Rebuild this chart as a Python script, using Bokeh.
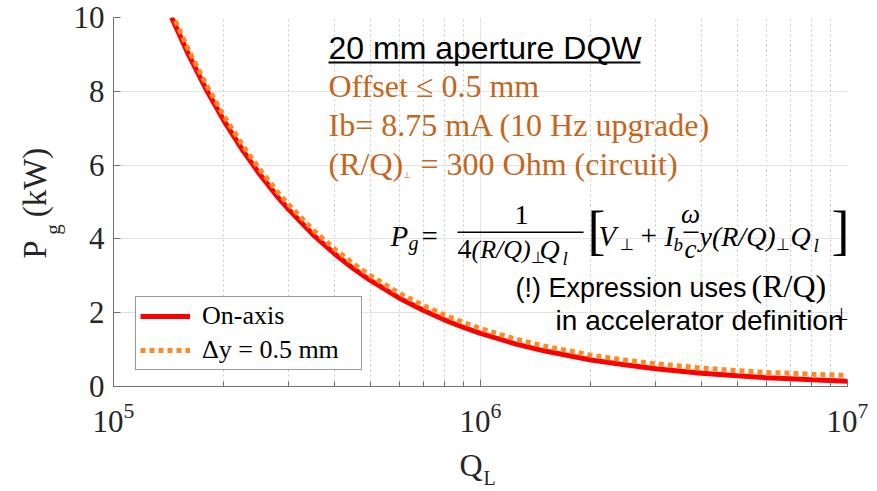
import math
from bokeh.plotting import figure
from bokeh.layouts import column, row
from bokeh.models import Range1d, FixedTicker, LogTicker, Label, BoxAnnotation
from bokeh.core.properties import value
from bokeh.embed import file_html
from bokeh.resources import INLINE

# ---- data ----
q_loaded = [1.44e5, 1.6e5, 1.8e5, 2.0e5, 2.25e5, 2.5e5, 2.8e5, 3.0e5, 3.5e5, 4.0e5,
            4.5e5, 5.0e5, 6.0e5, 7.0e5, 8.0e5, 9.0e5, 1.0e6, 1.25e6, 1.5e6, 2.0e6,
            2.5e6, 3.0e6, 4.0e6, 5.0e6, 6.0e6, 7.0e6, 8.0e6, 1.0e7]
p_on_axis = [10.0, 9.0, 8.0, 7.2, 6.4, 5.76, 5.14, 4.8, 4.11, 3.6,
             3.2, 2.88, 2.4, 2.06, 1.8, 1.6, 1.44, 1.15, 0.96, 0.72,
             0.58, 0.48, 0.36, 0.29, 0.24, 0.21, 0.18, 0.144]
p_offset = [10.13, 9.13, 8.13, 7.33, 6.53, 5.89, 5.27, 4.93, 4.24, 3.73,
            3.33, 3.01, 2.53, 2.19, 1.93, 1.73, 1.57, 1.28, 1.09, 0.85,
            0.71, 0.615, 0.50, 0.43, 0.38, 0.36, 0.33, 0.30]
y_ticks = [0, 2, 4, 6, 8, 10]
series_labels = ["On-axis", "\u0394y = 0.5 mm"]

SERIF = "Liberation Serif"
SANS = "Liberation Sans"
ORANGE_TXT = "#C5661C"
AX_TXT = "#262626"
SHIFT = 0.37   # baseline correction (fraction of font size)

# page geometry (pixels of the 877x491 picture)
WY = 70               # strip for the y-axis title
WTOT = 875
FL, FT, FW, FH = 113, 17, 734, 369
FB = FT + FH
HM = 444              # height of main figure
HX = 46               # strip for the x-axis title

# ---------------- main figure ----------------
WM = WTOT - WY
p = figure(width=WM, height=HM, x_axis_type="log",
           x_range=Range1d(1e5, 1e7), y_range=Range1d(0, 10),
           output_backend="svg", toolbar_location=None,
           min_border_left=FL - WY, min_border_right=WM - (FL - WY) - FW,
           min_border_top=FT, min_border_bottom=HM - FT - FH)
p.outline_line_color = None
p.background_fill_color = "white"

p.xaxis.ticker = LogTicker(num_minor_ticks=10)
p.yaxis.ticker = FixedTicker(ticks=y_ticks)
for ax in (p.xaxis[0], p.yaxis[0]):
    ax.axis_line_color = "#707070"
    ax.major_tick_line_color = "#707070"
    ax.minor_tick_line_color = "#707070"
    ax.major_tick_out = 0
    ax.major_tick_in = 7
    ax.minor_tick_out = 0
    ax.minor_tick_in = 5
    ax.major_label_text_font = SERIF
    ax.major_label_text_font_size = "31px"
    ax.major_label_text_color = AX_TXT
p.yaxis.minor_tick_line_color = None
p.yaxis.major_label_standoff = 9
p.xaxis.major_label_standoff = 16

p.ygrid.grid_line_color = "#E3E3E3"
p.ygrid.grid_line_width = 1
p.xgrid.grid_line_color = "#E3E3E3"
p.xgrid.minor_grid_line_color = "#C8C8C8"
p.xgrid.minor_grid_line_dash = "2 3"

p.line(q_loaded, p_on_axis, line_color="#FF0000", line_width=5, legend_label=series_labels[0])
p.line(q_loaded, p_offset, line_color="#FF8A24", line_width=5, line_dash="5 4",
       legend_label=series_labels[1])

lg = p.legend[0]
lg.location = (135 - FL, FB - 370)
lg.padding = 4
lg.margin = 0
lg.spacing = 4
lg.label_height = 30
lg.glyph_height = 30
lg.glyph_width = 50
lg.label_width = 155
lg.label_standoff = 12
lg.label_text_font = SERIF
lg.label_text_font_size = "26px"
lg.label_text_color = "black"
lg.border_line_color = "#333333"
lg.border_line_width = 1
lg.background_fill_alpha = 1.0


def lab(text, X, Y, size, font=SERIF, color="black", style="normal", align="left"):
    p.add_layout(Label(x=X - FL, y=FB - (Y - SHIFT * size), x_units="screen", y_units="screen",
                       text=text, text_font=font, text_font_size=f"{size}px",
                       text_color=color, text_font_style=style,
                       text_align=align, text_baseline="alphabetic"))


def hbar(x0, x1, y0, y1, color="black"):
    p.add_layout(BoxAnnotation(left=x0 - FL, right=x1 - FL, top=FB - y0, bottom=FB - y1,
                               left_units="screen", right_units="screen",
                               top_units="screen", bottom_units="screen",
                               fill_color=color, fill_alpha=1.0, line_color=None))


# header block
lab("20 mm aperture DQW", 328, 59, 32, font=SANS)
hbar(328, 640, 61, 63)
lab("Offset \u2264 0.5 mm", 328, 97, 32, color=ORANGE_TXT)
lab("Ib= 8.75 mA (10 Hz upgrade)", 328, 136, 32, color=ORANGE_TXT)
lab("(R/Q)", 328, 175, 32, color=ORANGE_TXT)
lab("\u22a5", 402, 178, 9, color=ORANGE_TXT)
lab("= 300 Ohm (circuit)", 420, 175, 32, color=ORANGE_TXT)

# formula
lab("P", 390, 246, 29, style="italic")
lab("g", 408, 250, 20, style="italic")
lab("=", 421, 246, 29)
lab("1", 521, 225, 28, align="center")
hbar(457, 583, 231, 232.5)
lab("4", 457, 259, 28)
lab("(R/Q)", 471, 259, 26, style="italic")
lab("\u22a5", 530, 263, 16)
lab("Q", 539, 259, 28, style="italic")
lab("l", 562, 265, 19, style="italic")
lab("[", 587, 250, 54)
lab("V", 598, 246, 29, style="italic")
lab("\u22a5", 619, 250, 16)
lab("+", 640, 246, 29)
lab("I", 664, 246, 29, style="italic")
lab("b", 673, 251, 19, style="italic")
lab("\u03c9", 690, 223, 27, style="italic", align="center")
hbar(683, 698, 231, 232.5)
lab("c", 690, 258, 27, style="italic", align="center")
lab("y(R/Q)", 699, 246, 28, style="italic")
lab("\u22a5", 775, 250, 16)
lab("Q", 790, 246, 28, style="italic")
lab("l", 813, 252, 19, style="italic")
lab("]", 831, 250, 54)
lab("2", 849, 216, 20)

# note
lab("(!) Expression uses", 746, 297, 27, font=SANS, align="right")
lab("(R/Q)", 751, 297, 32)
lab("\u22a5", 833, 320, 17)
lab("in accelerator definition", 843, 330, 28, font=SANS, align="right")

# ---------------- y-axis title strip (frame aligned with the main frame) ----------------
py = figure(width=WY, height=HM, x_range=Range1d(0, WY), y_range=Range1d(HM - FB, HM - FT),
            output_backend="svg", toolbar_location=None,
            x_axis_location=None, y_axis_location=None,
            min_border_left=0, min_border_right=0,
            min_border_top=FT, min_border_bottom=HM - FB)
py.outline_line_color = None
py.grid.visible = False
ylab_txt = ["P", "g", "(kW)"]
ylab_cx = [34, 52, 34]
ylab_cy = [249, 229, 182]
ylab_size = [33, 21, 33]
for t, X, Y, s in zip(ylab_txt, ylab_cx, ylab_cy, ylab_size):
    py.text(x=[X], y=[HM - Y], text=[t], angle=math.pi / 2,
            text_font=value(SERIF), text_font_size=value(f"{s}px"),
            text_color=AX_TXT, text_align="center", text_baseline="middle")

# ---------------- x-axis title strip ----------------
px = figure(width=WTOT, height=HX, x_range=Range1d(0, WTOT), y_range=Range1d(0, HX),
            output_backend="svg", toolbar_location=None,
            x_axis_location=None, y_axis_location=None, min_border=0)
px.outline_line_color = None
px.grid.visible = False
xlab_txt = ["Q", "L"]
xlab_X = [459, 483]
xlab_Y = [476, 485]
xlab_size = [32, 20]
for t, X, Y, s in zip(xlab_txt, xlab_X, xlab_Y, xlab_size):
    px.text(x=[X], y=[HM + HX - (Y - SHIFT * s)], text=[t],
            text_font=value(SERIF), text_font_size=value(f"{s}px"),
            text_color=AX_TXT, text_align="left", text_baseline="alphabetic")

layout = column(row(py, p, spacing=0), px, spacing=0)
open("out.html", "w").write(file_html(layout, INLINE))
